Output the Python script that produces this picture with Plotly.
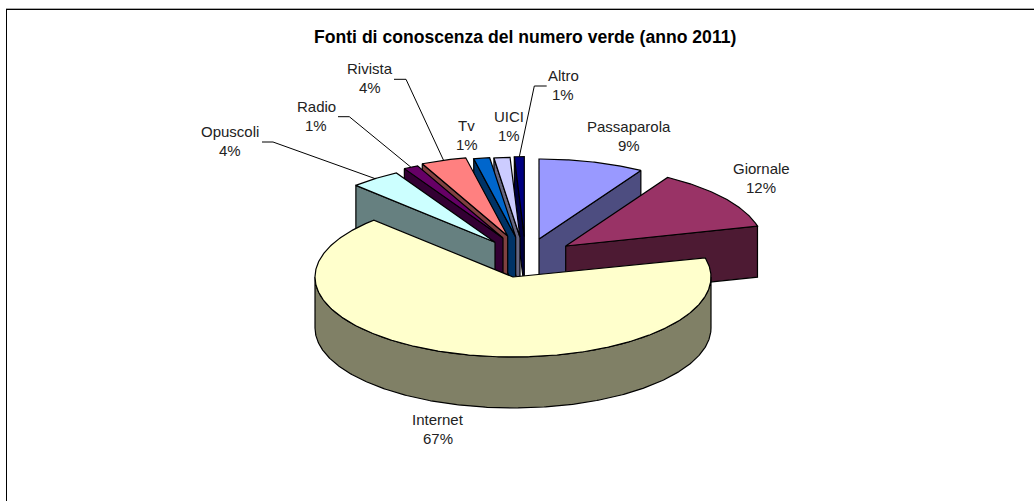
import math
import plotly.graph_objects as go

# --- data -----------------------------------------------------------------
categories = ["Passaparola", "Giornale", "Internet", "Opuscoli", "Radio",
              "Rivista", "Tv", "UICI", "Altro"]
values = [8.6, 12.4, 66.6, 4.1, 1.2, 3.7, 1.3, 1.3, 0.8]
title_text = "Fonti di conoscenza del numero verde (anno 2011)"

# --- styles ---------------------------------------------------------------
top_colors = ["#9999FF", "#993366", "#FFFFCC", "#CCFFFF", "#660066",
              "#FF8080", "#0066CC", "#CCCCFF", "#000080"]
wall_colors = ["#4D4D80", "#4D1A33", "#808066", "#668080", "#330033",
               "#804040", "#003366", "#666680", "#000040"]

# --- layout of the projected pie ------------------------------------------
CX, CY, RX, RY, H = 513.0, 277.0, 198.0, 80.0, 51.0
explode = {"Passaparola": (26, -38), "Giornale": (52.7, -31), "Internet": (0, 0),
           "Opuscoli": (-18, -34.7), "Radio": (-10, -39), "Rivista": (-5.3, -41),
           "Tv": (2.7, -40), "UICI": (7, -39.7), "Altro": (11.3, -40.3)}
paint_order = ["Altro", "UICI", "Tv", "Rivista", "Radio", "Opuscoli",
               "Passaparola", "Giornale", "Internet"]
label_pos = {"Passaparola": (629, 126.5), "Giornale": (761, 168), "Internet": (438, 419.3),
             "Opuscoli": (230, 131.5), "Radio": (316, 106), "Rivista": (369.7, 68.3),
             "Tv": (466.7, 125), "UICI": (508.5, 116), "Altro": (563, 75.7)}
leader_elbow = {"Opuscoli": [(262, 142), (273, 142)],
                "Radio": [(338, 116.7), (349.3, 116.7)],
                "Rivista": [(394, 79.3), (406, 79.3)],
                "Altro": [(546.7, 86), (534.3, 86)]}

total = sum(values)
angles = {}
acc = 0.0
for name, v in zip(categories, values):
    angles[name] = (acc / total * 360.0, (acc + v) / total * 360.0)
    acc += v


def rim(ax, ay, deg):
    a = math.radians(deg)
    return ax + RX * math.sin(a), ay - RY * math.cos(a)


def arc(ax, ay, a0, a1, dy=0.0):
    n = max(2, int(abs(a1 - a0) * 2))
    pts = [rim(ax, ay, a0 + (a1 - a0) * i / n) for i in range(n + 1)]
    return [(x, y + dy) for x, y in pts]


def add_poly(fig, pts, color):
    xs = [p[0] for p in pts] + [pts[0][0]]
    ys = [p[1] for p in pts] + [pts[0][1]]
    fig.add_trace(go.Scatter(x=xs, y=ys, mode="lines", fill="toself", fillcolor=color,
                             line=dict(color="#000000", width=1.2), hoverinfo="skip",
                             showlegend=False))


fig = go.Figure()

for name in paint_order:
    i = categories.index(name)
    a0, a1 = angles[name]
    dx, dy = explode[name]
    ax, ay = CX + dx, CY + dy
    top, wall = top_colors[i], wall_colors[i]
    if name == "Internet":
        front = arc(ax, ay, 90, 270)
        add_poly(fig, front + [(x, y + H) for x, y in reversed(front)], wall)
    else:
        # the cut face that looks towards the viewer
        edge = a1 if a1 < 180 else a0
        r = rim(ax, ay, edge)
        add_poly(fig, [(ax, ay), r, (r[0], r[1] + H), (ax, ay + H)], wall)
    add_poly(fig, [(ax, ay)] + arc(ax, ay, a0, a1), top)

# leader lines run from the label elbow to the middle of the slice rim
for name, elbow in leader_elbow.items():
    a0, a1 = angles[name]
    dx, dy = explode[name]
    end = rim(CX + dx, CY + dy, (a0 + a1) / 2)
    pts = elbow + [end]
    fig.add_trace(go.Scatter(x=[p[0] for p in pts], y=[p[1] for p in pts], mode="lines",
                             line=dict(color="#000000", width=1), hoverinfo="skip",
                             showlegend=False))

FONT = "Liberation Sans"
ann = [dict(x=525, y=37, xref="x", yref="y", text="<b>%s</b>" % title_text, showarrow=False,
            font=dict(family=FONT, size=17.6, color="#000000"), xanchor="center", yanchor="middle")]
for name, v in zip(categories, values):
    lx, ly = label_pos[name]
    ann.append(dict(x=lx, y=ly, xref="x", yref="y", text=name, showarrow=False,
                    font=dict(family=FONT, size=15, color="#222222"), xanchor="center", yanchor="middle"))
    ann.append(dict(x=lx, y=ly + 19.2, xref="x", yref="y", text="%d%%" % round(v / total * 100),
                    showarrow=False, font=dict(family=FONT, size=15, color="#222222"),
                    xanchor="center", yanchor="middle"))

shapes = [
    dict(type="line", xref="x", yref="y", x0=6, x1=1034, y0=8.5, y1=8.5, line=dict(color="#AAAAAA", width=1)),
    dict(type="line", xref="x", yref="y", x0=6, x1=1034, y0=9.5, y1=9.5, line=dict(color="#000000", width=1)),
    dict(type="line", xref="x", yref="y", x0=6.5, x1=6.5, y0=9, y1=501, line=dict(color="#000000", width=1)),
]

fig.update_layout(
    width=1034, height=501, margin=dict(l=0, r=0, t=0, b=0),
    paper_bgcolor="#FFFFFF", plot_bgcolor="#FFFFFF", showlegend=False,
    xaxis=dict(range=[0, 1034], visible=False, fixedrange=True),
    yaxis=dict(range=[501, 0], visible=False, fixedrange=True),
    annotations=ann, shapes=shapes,
)
fig.write_html("out.html", config={"displayModeBar": False},
               post_script="document.body.style.margin='0';document.body.style.overflow='hidden';")
